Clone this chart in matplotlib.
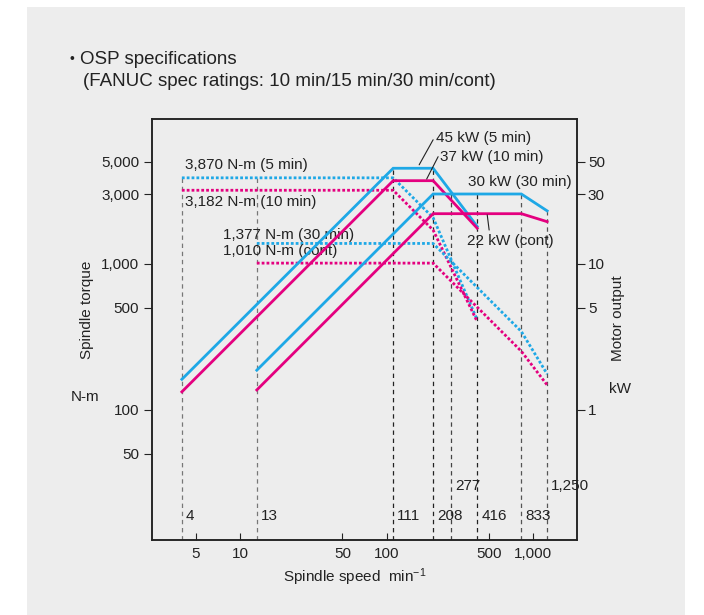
import matplotlib
matplotlib.use('Agg')
import matplotlib.pyplot as plt
from matplotlib.patches import Rectangle
from matplotlib.ticker import FixedLocator, FixedFormatter, NullLocator
from matplotlib.transforms import blended_transform_factory

# Rating curves (speed min-1, torque N-m, output kW)
speed_5min = [4, 111, 208, 416]
torque_5min = [3870, 3870, 2066, 413]
power_5min = [1.62, 45, 45, 18]

speed_10min = [4, 111, 208, 416]
torque_10min = [3182, 3182, 1699, 402]
power_10min = [1.33, 37, 37, 17.5]

speed_30min = [13, 208, 833, 1250]
torque_30min = [1377, 1377, 344, 176]
power_30min = [1.87, 30, 30, 23]

speed_cont = [13, 208, 833, 1250]
torque_cont = [1010, 1010, 252, 148]
power_cont = [1.37, 22, 22, 19.4]

# Marked speeds and where their guide lines stop (N-m)
mark_speeds = [4, 13, 111, 208, 277, 416, 833, 1250]
mark_labels = ['4', '13', '111', '208', '277', '416', '833', '1,250']
mark_tops = [3870, 3870, 4500, 4500, 3000, 3000, 3000, 2300]
mark_colors = ['#777777', '#777777', '#222222', '#222222', '#444444', '#222222', '#555555', '#555555']
mark_low = [True, True, True, True, False, True, True, False]

x_ticks = [5, 10, 50, 100, 500, 1000]
x_ticklabels = ['5', '10', '50', '100', '500', '1,000']
torque_ticks = [50, 100, 500, 1000, 3000, 5000]
torque_ticklabels = ['50', '100', '500', '1,000', '3,000', '5,000']
power_ticks = [1, 5, 10, 30, 50]
power_ticklabels = ['1', '5', '10', '30', '50']

BLUE = '#1ea8e6'
MAGENTA = '#e4007f'
INK = '#222222'
FS = 11

plt.rcParams['font.family'] = ['Liberation Sans', 'DejaVu Sans']
plt.rcParams['mathtext.default'] = 'regular'
plt.rcParams['text.color'] = INK

fig = plt.figure(figsize=(7.04, 6.15), dpi=100)
# grey panel behind everything
fig.add_artist(Rectangle((27 / 704, 0), 658 / 704, 608 / 615, transform=fig.transFigure,
                         facecolor='#ededed', edgecolor='none', zorder=-10))

ax = fig.add_axes([0.2166, 0.1220, 0.6037, 0.6837])
ax.set_facecolor('none')
ax.set_xscale('log')
ax.set_yscale('log')
ax.set_xlim(2.52, 2014)
ax.set_ylim(12.9, 9700)

ax2 = ax.twinx()
ax2.set_yscale('log')
ax2.set_ylim(0.129, 97)

# guide lines
for s, top, c in zip(mark_speeds, mark_tops, mark_colors):
    ax.plot([s, s], [12.9, top], color=c, lw=0.9, linestyle=(0, (3.5, 3)), zorder=1)

# torque (dotted)
dot = (0, (1, 0.75))
ax.plot(speed_5min, torque_5min, color=BLUE, lw=2.0, linestyle=dot, zorder=3)
ax.plot(speed_10min, torque_10min, color=MAGENTA, lw=2.0, linestyle=dot, zorder=3)
ax.plot(speed_30min, torque_30min, color=BLUE, lw=2.0, linestyle=dot, zorder=3)
ax.plot(speed_cont, torque_cont, color=MAGENTA, lw=2.0, linestyle=dot, zorder=3)

# output (solid)
ax2.plot(speed_5min, power_5min, color=BLUE, lw=2.0, solid_joinstyle='miter')
ax2.plot(speed_10min, power_10min, color=MAGENTA, lw=2.0, solid_joinstyle='miter')
ax2.plot(speed_30min, power_30min, color=BLUE, lw=2.0, solid_joinstyle='miter')
ax2.plot(speed_cont, power_cont, color=MAGENTA, lw=2.0, solid_joinstyle='miter')

# speed labels near the bottom
trans = blended_transform_factory(ax.transData, ax.transAxes)
for s, lab, low in zip(mark_speeds, mark_labels, mark_low):
    ax.annotate(lab, xy=(s, 0.057 if low else 0.128), xycoords=trans,
                xytext=(3, 0), textcoords='offset points',
                ha='left', va='center', fontsize=FS)

# torque labels
ax.text(4.2, 4750, '3,870 N-m (5 min)', ha='left', va='center', fontsize=FS)
ax.text(4.2, 2663, '3,182 N-m (10 min)', ha='left', va='center', fontsize=FS)
ax.text(7.68, 1575, '1,377 N-m (30 min)', ha='left', va='center', fontsize=FS)
ax.text(7.68, 1225, '1,010 N-m (cont)', ha='left', va='center', fontsize=FS)

# output labels with leaders
lead = dict(arrowstyle='-', color=INK, lw=0.8, shrinkA=0, shrinkB=0)
ax2.text(217, 72.3, '45 kW (5 min)', ha='left', va='center', fontsize=FS)
ax2.annotate('', xy=(167, 47.5), xytext=(208, 70.5), arrowprops=lead)
ax2.text(232, 54, '37 kW (10 min)', ha='left', va='center', fontsize=FS)
ax2.annotate('', xy=(188, 38), xytext=(225, 54), arrowprops=lead)
ax2.text(361, 36.5, '30 kW (30 min)', ha='left', va='center', fontsize=FS)
ax2.text(356, 14.2, '22 kW (cont)', ha='left', va='center', fontsize=FS)
ax2.annotate('', xy=(487, 21.6), xytext=(502, 17), arrowprops=lead)

# axes styling
ax.xaxis.set_major_locator(FixedLocator(x_ticks))
ax.xaxis.set_major_formatter(FixedFormatter(x_ticklabels))
ax.yaxis.set_major_locator(FixedLocator(torque_ticks))
ax.yaxis.set_major_formatter(FixedFormatter(torque_ticklabels))
ax2.yaxis.set_major_locator(FixedLocator(power_ticks))
ax2.yaxis.set_major_formatter(FixedFormatter(power_ticklabels))
for a in (ax, ax2):
    a.xaxis.set_minor_locator(NullLocator())
    a.yaxis.set_minor_locator(NullLocator())
    for sp in a.spines.values():
        sp.set_linewidth(1.1)
        sp.set_color(INK)
ax.tick_params(axis='x', direction='in', length=5, width=0.8, pad=5, labelsize=FS, colors=INK)
ax.tick_params(axis='y', direction='out', length=5.5, width=0.8, pad=4, labelsize=FS, colors=INK)
ax2.tick_params(axis='y', direction='out', length=5.5, width=0.8, pad=2, labelsize=FS, colors=INK)

# axis titles
fig.text(86.7 / 704, 1 - 310 / 615, 'Spindle torque', rotation=90, ha='center', va='center', fontsize=FS)
fig.text(85 / 704, 1 - 397 / 615, 'N-m', ha='center', va='center', fontsize=FS)
fig.text(618 / 704, 1 - 318 / 615, 'Motor output', rotation=90, ha='center', va='center', fontsize=FS)
fig.text(620 / 704, 1 - 389 / 615, 'kW', ha='center', va='center', fontsize=FS)
fig.text(355 / 704, 1 - 576.7 / 615, 'Spindle speed  min$^{-1}$', ha='center', va='center', fontsize=FS)

# heading
fig.text(69 / 704, 1 - 59 / 615, '\u2022', ha='left', va='center', fontsize=10)
fig.text(80.5 / 704, 1 - 59 / 615, 'OSP specifications', ha='left', va='center', fontsize=13.5)
fig.text(83 / 704, 1 - 82 / 615, '(FANUC spec ratings: 10 min/15 min/30 min/cont)',
         ha='left', va='center', fontsize=13.5)

fig.savefig('out.png', dpi=100)
